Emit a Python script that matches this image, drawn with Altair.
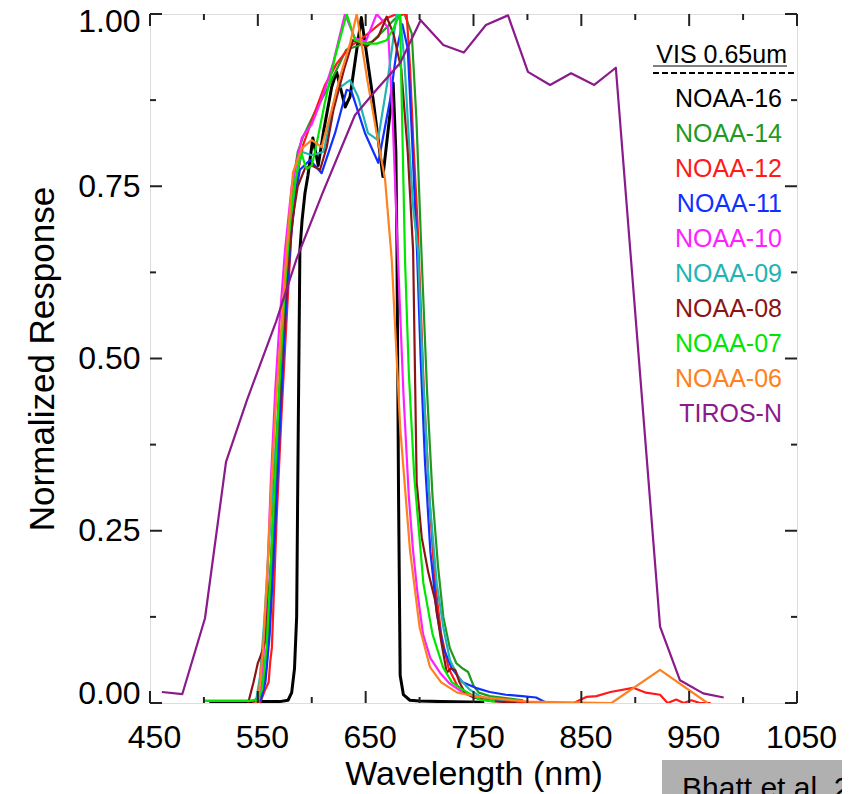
import altair as alt
import pandas as pd

# ---------------- data ----------------
names = ["NOAA-16", "NOAA-14", "NOAA-12", "NOAA-11", "NOAA-10",
         "NOAA-09", "NOAA-08", "NOAA-07", "NOAA-06", "TIROS-N"]
colors = ["#000000", "#1f9a1f", "#ff1a1a", "#1030ff", "#ff20ff",
          "#20b4b4", "#8b1515", "#00e600", "#ff8020", "#8b1a8b"]

n16_wl = [505, 540, 570, 578, 581.4, 584, 586, 587.3, 589, 591, 593.7, 596.5, 601, 606, 611, 618.5, 623, 631, 635.5,
          646, 657, 666, 672.6, 675.5, 678, 679, 680.5, 682, 685, 691, 700, 720, 760]
n16_v = [0.002, 0.002, 0.002, 0.004, 0.015, 0.05, 0.125, 0.367, 0.657, 0.70, 0.74, 0.766, 0.82, 0.78, 0.83, 0.894,
         0.916, 0.865, 0.88, 0.995, 0.875, 0.764, 0.856, 0.90, 0.80, 0.66, 0.30, 0.04, 0.012, 0.004, 0.003, 0.002, 0.001]

n14_wl = [500, 545, 553, 558, 563, 568, 573, 578, 583, 587, 592, 603, 614, 623, 632, 645, 656, 666, 679, 686, 692.7,
          697, 702, 707, 712, 717, 722, 728, 734, 740, 745, 750, 755, 765, 780, 796]
n14_v = [0.003, 0.003, 0.01, 0.05, 0.18, 0.36, 0.55, 0.68, 0.76, 0.80, 0.822, 0.858, 0.89, 0.919, 0.948, 0.955, 0.96,
         0.975, 0.996, 1.0, 0.972, 0.85, 0.643, 0.45, 0.30, 0.20, 0.125, 0.08, 0.058, 0.05, 0.045, 0.025, 0.015, 0.01,
         0.007, 0.004]

n12_wl = [545, 552, 557, 560, 561.5, 563, 567.5, 572, 576.8, 581, 586, 592, 604.6, 612.3, 623.1, 635.5, 644.7, 655,
          669.5, 678.8, 688, 691.1, 694, 698, 700.5, 704, 709, 714, 720, 727, 735, 745, 760, 780, 800, 843, 855, 864,
          877, 898, 910, 923, 930, 938, 945, 952, 960, 970]
n12_v = [0.0, 0.0, 0.02, 0.03, 0.06, 0.08, 0.27, 0.42, 0.56, 0.68, 0.76, 0.81, 0.865, 0.897, 0.928, 0.953, 0.962,
         0.975, 0.994, 1.0, 1.0, 0.924, 0.82, 0.70, 0.60, 0.45, 0.30, 0.18, 0.10, 0.05, 0.025, 0.012, 0.006, 0.003,
         0.0, 0.0, 0.009, 0.01, 0.016, 0.022, 0.015, 0.012, 0.0, 0.005, 0.0, 0.004, 0.0, 0.0]

n11_wl = [548, 553, 557, 561, 566, 571, 576, 581, 585, 589, 598.4, 609.2, 621.6, 632.4, 637, 649.4, 661.7, 672.6,
          679, 684, 689, 693, 697.6, 701, 705, 710, 716, 722, 730, 740, 752, 765, 780, 795, 808, 818]
n11_v = [0.0, 0.005, 0.03, 0.10, 0.25, 0.42, 0.57, 0.68, 0.74, 0.774, 0.788, 0.769, 0.827, 0.89, 0.887, 0.827, 0.784,
         0.875, 0.95, 0.985, 0.95, 0.82, 0.657, 0.50, 0.35, 0.22, 0.13, 0.08, 0.05, 0.03, 0.022, 0.016, 0.012, 0.01,
         0.008, 0.0]

n10_wl = [550, 554, 558, 562, 566, 570, 575.2, 581.4, 590.7, 600, 610, 620, 630.8, 640, 650, 660.2, 666, 670.7, 675,
          680, 685, 690, 693.9, 698, 703.2, 710, 718.9, 728, 740.3, 755, 775]
n10_v = [0.0, 0.03, 0.15, 0.32, 0.45, 0.55, 0.657, 0.75, 0.82, 0.84, 0.88, 0.93, 1.0, 0.965, 0.96, 1.0, 0.99, 0.98,
         0.85, 0.643, 0.45, 0.30, 0.222, 0.16, 0.10, 0.065, 0.044, 0.028, 0.015, 0.006, 0.002]

n09_wl = [548, 552, 556, 560, 564, 568.5, 573.3, 579, 585, 590.7, 600, 611, 623.1, 635.5, 643, 652.2, 661.4, 670,
          678.8, 681.8, 686, 690, 694, 698.5, 703, 709, 715.9, 722, 728.2, 737, 746.8, 756, 765, 780, 790]
n09_v = [0.0, 0.038, 0.12, 0.22, 0.32, 0.42, 0.56, 0.68, 0.76, 0.80, 0.795, 0.80, 0.89, 0.904, 0.88, 0.827, 0.817,
         0.90, 1.0, 1.0, 0.93, 0.82, 0.72, 0.657, 0.48, 0.30, 0.174, 0.11, 0.062, 0.035, 0.019, 0.01, 0.005, 0.002, 0.0]

n08_wl = [541, 546, 550, 553, 557, 562, 567, 572, 577, 582, 587, 593.7, 600, 607.7, 613.9, 620, 630, 638.3, 651,
          661.7, 669.5, 676, 683, 689, 694, 697.3, 702, 708, 714.3, 720, 725.2, 729, 733, 737, 742, 750, 765, 790]
n08_v = [0.0, 0.03, 0.058, 0.07, 0.09, 0.20, 0.36, 0.50, 0.62, 0.70, 0.75, 0.776, 0.78, 0.774, 0.807, 0.86, 0.92,
         0.962, 0.953, 0.967, 0.996, 0.97, 0.92, 0.80, 0.657, 0.32, 0.24, 0.19, 0.15, 0.09, 0.044, 0.05, 0.048, 0.03,
         0.015, 0.008, 0.003, 0.0]

n07_wl = [500, 543, 550, 554, 558, 562, 566, 570, 575, 580, 585, 590, 595, 600, 603, 612, 622, 632.4, 640.1, 649.4,
          660.2, 669.5, 676, 681.8, 686.5, 690, 695, 703.5, 712, 721.7, 730, 740.3, 756, 770]
n07_v = [0.003, 0.003, 0.005, 0.02, 0.08, 0.20, 0.33, 0.46, 0.60, 0.70, 0.76, 0.80, 0.775, 0.78, 0.80, 0.87, 0.94,
         1.0, 0.962, 0.957, 0.957, 0.962, 0.98, 1.0, 0.643, 0.48, 0.33, 0.174, 0.10, 0.052, 0.03, 0.019, 0.005, 0.002]

n06_wl = [548, 550.2, 554.8, 559, 563, 567, 572, 576.8, 582.6, 590.7, 600, 609.2, 618.5, 626.2, 635.5, 641.7, 652,
          663.3, 668, 674.2, 682, 691.1, 700, 709.7, 720, 735, 756, 800, 878, 923, 967]
n06_v = [0.0, 0.0, 0.077, 0.20, 0.33, 0.44, 0.55, 0.657, 0.77, 0.805, 0.817, 0.807, 0.861, 0.909, 0.957, 1.0, 0.90,
         0.80, 0.76, 0.643, 0.40, 0.222, 0.11, 0.052, 0.03, 0.015, 0.009, 0.002, 0.0, 0.048, 0.0]

tiros_wl = [461, 480, 501, 520.5, 540, 567, 586, 610, 640, 660, 682, 701, 722, 741, 761.5, 782, 800.5, 821, 840.5,
            862, 882, 923, 941.5, 963, 982]
tiros_v = [0.016, 0.013, 0.123, 0.35, 0.44, 0.554, 0.645, 0.74, 0.853, 0.89, 0.929, 0.991, 0.955, 0.944, 0.984,
           0.998, 0.916, 0.897, 0.914, 0.897, 0.922, 0.111, 0.033, 0.014, 0.008]

series_wl = [n16_wl, n14_wl, n12_wl, n11_wl, n10_wl, n09_wl, n08_wl, n07_wl, n06_wl, tiros_wl]
series_v = [n16_v, n14_v, n12_v, n11_v, n10_v, n09_v, n08_v, n07_v, n06_v, tiros_v]

x_major = [450, 550, 650, 750, 850, 950, 1050]
x_minor = [500, 600, 700, 800, 900, 1000]
y_major = [0.0, 0.25, 0.5, 0.75, 1.0]
y_minor = [0.125, 0.375, 0.625, 0.875]

legend_title = "VIS 0.65um"
credit = "Bhatt et al. 2016"

# ---------------- build ----------------
rows = []
for name, wls, vs in zip(names, series_wl, series_v):
    for w, v in zip(wls, vs):
        rows.append({"sat": name, "wl": w, "resp": v})
df = pd.DataFrame(rows)

W, H = 647, 689
FONT = "Liberation Sans"
AX = "#222222"

xscale = alt.Scale(domain=[450, 1050], nice=False, zero=False)
yscale = alt.Scale(domain=[0, 1], nice=False, zero=False)
cscale = alt.Scale(domain=names, range=colors)

x_axis = alt.Axis(values=x_major, format="d", title="Wavelength (nm)", ticks=False, tickSize=0,
                  domain=False, grid=False, labelFontSize=32, labelFont=FONT, labelColor="#000",
                  labelPadding=44, labelBaseline="alphabetic", labelFlush=False, labelOverlap=False,
                  labelOffset=4,
                  titleFontSize=34, titleFont=FONT, titleFontWeight="normal", titleColor="#000",
                  titleY=81, titleBaseline="alphabetic")

y_axis = alt.Axis(values=y_major, format=".2f", title="Normalized Response", ticks=False, tickSize=0,
                  domain=False, grid=False, labelFontSize=32, labelFont=FONT, labelColor="#000",
                  labelPadding=10, labelFlush=False, labelOverlap=False,
                  labelOffset={"condition": [{"test": "datum.value === 0", "value": -10},
                                             {"test": "datum.value === 1", "value": 7}],
                               "value": 0},
                  titleFontSize=35, titleFont=FONT, titleFontWeight="normal", titleColor="#000",
                  titleX=-97, titleBaseline="alphabetic", titleAngle=270)

lines = alt.Chart(df).mark_line(clip=True, strokeJoin="round").encode(
    x=alt.X("wl:Q", scale=xscale, axis=x_axis),
    y=alt.Y("resp:Q", scale=yscale, axis=y_axis),
    color=alt.Color("sat:N", scale=cscale, legend=None),
    strokeWidth=alt.condition("datum.sat === 'NOAA-16'", alt.value(3), alt.value(2.2)),
)


def xticks(vals, length):
    base = alt.Chart(pd.DataFrame({"t": vals}))
    enc_x = alt.X("t:Q", scale=xscale, axis=x_axis)
    bottom = base.mark_rule(color=AX, strokeWidth=2).encode(x=enc_x, y=alt.value(H), y2=alt.value(H - length))
    top = base.mark_rule(color=AX, strokeWidth=2).encode(x=enc_x, y=alt.value(0), y2=alt.value(length))
    return [bottom, top]


def yticks(vals, length):
    base = alt.Chart(pd.DataFrame({"t": vals}))
    enc_y = alt.Y("t:Q", scale=yscale, axis=None)
    left = base.mark_rule(color=AX, strokeWidth=2).encode(y=enc_y, x=alt.value(0), x2=alt.value(length))
    right = base.mark_rule(color=AX, strokeWidth=2).encode(y=enc_y, x=alt.value(W), x2=alt.value(W - length))
    return [left, right]


tick_layers = xticks(x_major, 12) + xticks(x_minor, 6) + yticks(y_major, 12) + yticks(y_minor, 6)

leg_df = pd.DataFrame({"sat": names, "rank": list(range(len(names)))})
legend_text = alt.Chart(leg_df).mark_text(align="right", baseline="alphabetic", fontSize=25, font=FONT).encode(
    x=alt.value(632),
    y=alt.Y("rank:O", scale=alt.Scale(type="point", range=[93, 408], padding=0), axis=None),
    text="sat:N",
    color=alt.Color("sat:N", scale=cscale, legend=None),
)

one = pd.DataFrame({"label": [legend_title]})
leg_title = alt.Chart(one).mark_text(align="right", baseline="alphabetic", fontSize=25, font=FONT,
                                     color="#000").encode(
    x=alt.value(637), y=alt.value(49), text="label:N")
leg_under = alt.Chart(one).mark_rule(color="#000", strokeWidth=1).encode(
    x=alt.value(503), x2=alt.value(637), y=alt.value(52))
leg_dash = alt.Chart(one).mark_rule(color="#000", strokeWidth=2, strokeDash=[6, 3]).encode(
    x=alt.value(503), x2=alt.value(645), y=alt.value(59))

cr = pd.DataFrame({"label": [credit]})
credit_box = alt.Chart(cr).mark_rect(color="#b0b0b0").encode(
    x=alt.value(512), x2=alt.value(720), y=alt.value(746), y2=alt.value(800))
credit_text = alt.Chart(cr).mark_text(align="left", baseline="alphabetic", fontSize=30, font=FONT,
                                      color="#000").encode(
    x=alt.value(532), y=alt.value(784), text="label:N")

chart = alt.layer(
    lines, *tick_layers, legend_text, leg_title, leg_under, leg_dash, credit_box, credit_text
).resolve_scale(y="independent").properties(
    width=W, height=H,
    autosize=alt.AutoSizeParams(type="none"),
    padding={"left": 142, "top": 6, "right": 45, "bottom": 91},
).configure_view(stroke=AX, strokeWidth=2).configure(background="white")

chart.save("out.html", embed_options={"renderer": "svg", "actions": False})
